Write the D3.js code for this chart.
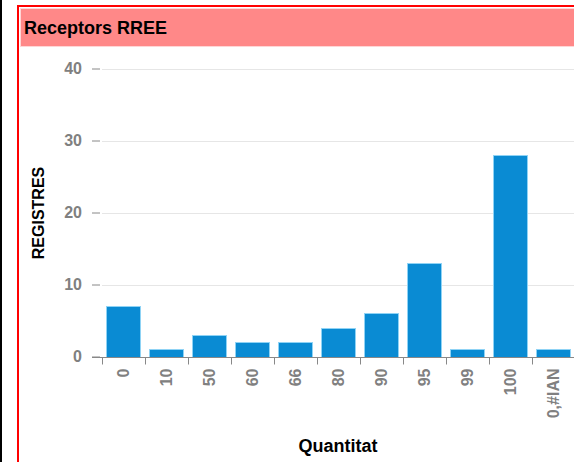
<!DOCTYPE html>
<html>
<head>
<meta charset="utf-8">
<script src="https://cdn.jsdelivr.net/npm/d3@7"></script>
<style>
  body { margin: 0; background: #fff; }
  text { font-family: "Liberation Sans", Arial, sans-serif; font-weight: bold; }
</style>
</head>
<body>
<script>
// values
const categories = ["0", "10", "50", "60", "66", "80", "90", "95", "99", "100", "0,#IAN"];
const registres = [7, 1, 3, 2, 2, 4, 6, 13, 1, 28, 1];
const yTicks = [0, 10, 20, 30, 40];

const width = 574;
const height = 462;

const svg = d3.select("body").append("svg")
    .attr("width", width)
    .attr("height", height);

// outer frame bits
svg.append("rect")
    .attr("x", 0).attr("y", 0)
    .attr("width", 2).attr("height", height)
    .attr("fill", "#000");

svg.append("rect")
    .attr("x", 18).attr("y", 6)
    .attr("width", 600).attr("height", 500)
    .attr("fill", "none")
    .attr("stroke", "#ff0000")
    .attr("stroke-width", 2);

// title bar
svg.append("rect")
    .attr("x", 20.5).attr("y", 8.5)
    .attr("width", 600).attr("height", 38)
    .attr("fill", "#ff8888")
    .attr("stroke", "#ffd6d6")
    .attr("stroke-width", 1);

svg.append("text")
    .attr("x", 24).attr("y", 34)
    .attr("font-size", "18px")
    .attr("fill", "#000")
    .text("Receptors RREE");

// scales
const x = d3.scaleBand()
    .domain(categories)
    .range([102, 575])
    .paddingInner(0.2)
    .paddingOuter(0.1);

const y = d3.scaleLinear()
    .domain([0, 40])
    .range([356.5, 68.5]);

// grid
svg.append("g")
    .selectAll("line")
    .data(yTicks.filter(d => d > 0))
    .enter()
    .append("line")
    .attr("x1", 102).attr("x2", width)
    .attr("y1", d => Math.round(y(d)) + 0.5)
    .attr("y2", d => Math.round(y(d)) + 0.5)
    .attr("stroke", "#e6e6e6");

// y axis: labels + little dashes, no domain line
const yAxis = svg.append("g")
    .attr("transform", "translate(100,0)")
    .call(d3.axisLeft(y).tickValues(yTicks).tickSize(8).tickPadding(10));
yAxis.select(".domain").remove();
yAxis.selectAll("line").attr("stroke", "#888");
yAxis.selectAll("text")
    .attr("fill", "#808080")
    .attr("font-size", "16px")
    .attr("font-family", "Liberation Sans, Arial, sans-serif");

// bars
svg.append("g")
    .selectAll("rect")
    .data(registres)
    .enter()
    .append("rect")
    .attr("x", (d, i) => Math.round(x(categories[i])) + 0.5)
    .attr("y", d => Math.round(y(d)) + 0.5)
    .attr("width", Math.round(x.bandwidth()))
    .attr("height", d => Math.round(y(0)) - Math.round(y(d)))
    .attr("fill", "#0a8bd3")
    .attr("stroke", "#8fd3f5")
    .attr("stroke-width", 1);

// x axis line with ticks on band edges
const xAxisG = svg.append("g")
    .attr("transform", "translate(0," + (Math.round(y(0)) + 0.5) + ")");
xAxisG.append("line")
    .attr("x1", 92).attr("x2", width)
    .attr("stroke", "#888");
xAxisG.selectAll(".edge")
    .data(categories.concat(["end"]))
    .enter()
    .append("line")
    .attr("class", "edge")
    .attr("x1", (d, i) => Math.round(102 + i * x.step() * 1) + 0.5)
    .attr("x2", (d, i) => Math.round(102 + i * x.step() * 1) + 0.5)
    .attr("y1", 0).attr("y2", 7)
    .attr("stroke", "#888");

// rotated category labels
xAxisG.selectAll(".lbl")
    .data(categories)
    .enter()
    .append("text")
    .attr("class", "lbl")
    .attr("transform", d => "translate(" + (x(d) + x.bandwidth() / 2) + ",11) rotate(-90)")
    .attr("dy", "0.35em")
    .attr("text-anchor", "end")
    .attr("font-size", "16px")
    .attr("fill", "#808080")
    .text(d => d);

// axis titles
svg.append("text")
    .attr("transform", "translate(44,213) rotate(-90)")
    .attr("text-anchor", "middle")
    .attr("font-size", "16px")
    .attr("fill", "#000")
    .text("REGISTRES");

svg.append("text")
    .attr("x", 338).attr("y", 452)
    .attr("text-anchor", "middle")
    .attr("font-size", "18px")
    .attr("fill", "#000")
    .text("Quantitat");
</script>
</body>
</html>
